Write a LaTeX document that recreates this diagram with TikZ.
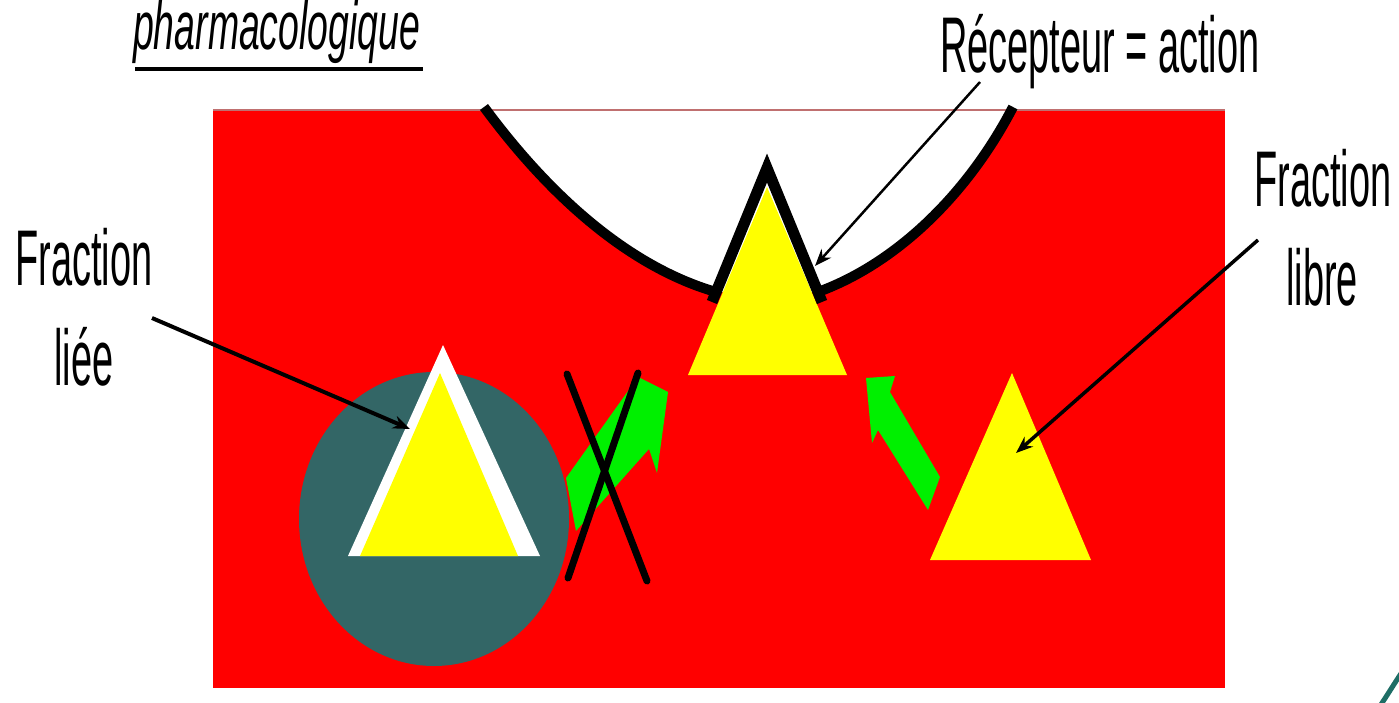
\documentclass[tikz,border=0pt]{standalone}
\usepackage{fontspec}
\setmainfont{Liberation Sans}
\newfontfamily\lab[FakeStretch=0.48]{Liberation Sans}
\newfontfamily\tit[FakeStretch=0.55]{Liberation Sans}
\usetikzlibrary{arrows.meta}
\definecolor{slate}{HTML}{336666}
\definecolor{tealarc}{HTML}{1E6E66}
\definecolor{edge}{HTML}{C07070}
\definecolor{bgred}{HTML}{FF0000}
\definecolor{yel}{HTML}{FFFF00}
\definecolor{grn}{HTML}{00F000}
\begin{document}
\begin{tikzpicture}[x=1pt,y=-1pt,
  lbl/.style={font=\lab\fontsize{79}{90}\selectfont, inner sep=0pt, anchor=base},
  ptr/.style={-{Stealth[length=17pt,width=13pt]}, line width=#1},
  ptr/.default=3pt,
  bowl/.style={line width=10pt, line cap=butt},
  garrow/.style={fill=grn, draw=none},
  tri/.style={fill=yel, draw=none},
  cross/.style={line width=7pt, line cap=round}]
\useasboundingbox (0,0) rectangle (1399,703);
\clip (0,0) rectangle (1399,703);
\fill[white] (0,0) rectangle (1399,703);
% red body
\fill[bgred] (213,110) rectangle (1225,688);
% white bowl
\fill[white] (484,110) .. controls (560,210) and (640,270) .. (712,292)
  -- (822,292) .. controls (900,262) and (970,190) .. (1013,110) -- cycle;
\draw[edge, line width=1.5pt] (213,110) -- (1225,110);
\draw[bowl] (484,107) .. controls (560,210) and (640,270) .. (716,292);
\draw[bowl] (818,292) .. controls (900,262) and (970,190) .. (1013,107);
% receptor
\path[tri] (767,187) -- (688,375) -- (847,375) -- cycle;
\draw[line width=11pt, miter limit=10] (712,302) -- (767,168) -- (822,302);
% bound fraction
\fill[slate] (434,519) ellipse [x radius=135, y radius=147];
\fill[white] (443,345) -- (348,556) -- (540,556) -- cycle;
\path[tri] (440,373) -- (360,556) -- (518,556) -- cycle;
% free fraction
\path[tri] (1012,373) -- (930,560) -- (1091,560) -- cycle;
% green arrows
\path[garrow] (566,478) -- (638,377) -- (668,392) -- (657,473) -- (649,449) -- (576,531) -- cycle;
\path[garrow] (866,378) -- (895,376) -- (890,392) -- (940,477) -- (928,510) -- (878,430) -- (872,443) -- cycle;
% cross
\draw[cross] (567,374) -- (647,581);
\draw[cross] (638,373) -- (568,578);
% labels
\node[lbl, anchor=base west, font=\tit\itshape\fontsize{68}{80}\selectfont] (title) at (133,50) {pharmacologique};
\draw[line width=4.5pt] (135,69) -- (423,69);
\node[lbl, anchor=base west] (rec) at (940,73) {Récepteur = action};
\node[lbl] (fl1) at (84,285) {Fraction};
\node[lbl] (fl2) at (84,385) {liée};
\node[lbl] (fr1) at (1323,207) {Fraction};
\node[lbl] (fr2) at (1322,305) {libre};
% pointers
\coordinate (recS) at (980,82);
\coordinate (recE) at (815,266);
\coordinate (flS) at (152,318);
\coordinate (flE) at (410,429);
\coordinate (frS) at (1258,240);
\coordinate (frE) at (1016,453);
\draw[ptr=2.5pt] (recS) -- (recE);
\draw[ptr=4pt] (flS) -- (flE);
\draw[ptr=3.5pt] (frS) -- (frE);
% corner arc
\draw[tealarc, line width=5pt] (1380,706) .. controls (1388,694) and (1394,684) .. (1402,672);
\end{tikzpicture}
\end{document}
